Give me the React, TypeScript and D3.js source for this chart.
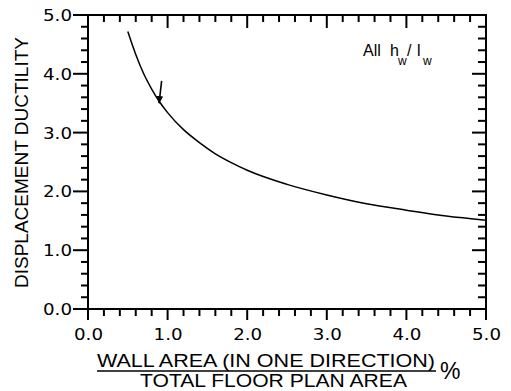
import React, { useEffect, useRef } from "react";
import * as d3 from "d3";

// values
const wallRatio = [0.5, 0.6, 0.7, 0.8, 0.9, 1.0, 1.2, 1.4, 1.6, 1.8, 2.0, 2.5, 3.0, 3.5, 4.0, 4.5, 5.0];
const ductility = [4.72, 4.33, 4.0, 3.74, 3.52, 3.34, 3.05, 2.83, 2.64, 2.49, 2.36, 2.12, 1.94, 1.79, 1.68, 1.58, 1.51];
const xTicks = [0, 1, 2, 3, 4, 5];
const yTicks = [0, 1, 2, 3, 4, 5];
const minorTicks = [0.2, 0.4, 0.6, 0.8, 1.2, 1.4, 1.6, 1.8, 2.2, 2.4, 2.6, 2.8, 3.2, 3.4, 3.6, 3.8, 4.2, 4.4, 4.6, 4.8];
const arrowFrom = [0.925, 3.88];
const arrowTo = [0.893, 3.5];

const W = 511;
const H = 391;
const FONT = "'Liberation Sans', Arial, sans-serif";

const App = () => {
  const svgRef = useRef<SVGSVGElement>(null);

  useEffect(() => {
    const svg = d3.select(svgRef.current);
    svg.selectAll("*").remove();

    const x = d3.scaleLinear().domain([0, 5]).range([88, 486]);
    const y = d3.scaleLinear().domain([0, 5]).range([309, 15]);

    // ticks: bottom/top ones point down, left/right ones point left
    const ticks = svg.append("g").attr("stroke", "#000").attr("stroke-width", 2);
    const tick = (ax: number, ay: number, bx: number, by: number) =>
      ticks.append("line").attr("x1", ax).attr("y1", ay).attr("x2", bx).attr("y2", by).attr("stroke", "#000");
    minorTicks.forEach((v) => {
      tick(x(v), y(0), x(v), y(0) + 7);
      tick(x(v), y(5), x(v), y(5) + 7);
      tick(x(0), y(v), x(0) - 7, y(v));
      tick(x(5), y(v), x(5) - 8, y(v));
    });
    xTicks.forEach((v) => {
      tick(x(v), y(0), x(v), y(0) + 11);
      tick(x(v), y(5), x(v), y(5) + 13);
    });
    yTicks.forEach((v) => {
      tick(x(0), y(v), x(0) - 15, y(v));
      tick(x(5), y(v), x(5) - 14, y(v));
    });

    // frame
    svg.append("rect")
      .attr("x", x(0))
      .attr("y", y(5))
      .attr("width", x(5) - x(0))
      .attr("height", y(0) - y(5))
      .attr("fill", "none")
      .attr("stroke", "#000")
      .attr("stroke-width", 2);

    const t = svg.append("g").attr("font-family", FONT).attr("fill", "#000");

    xTicks.forEach((v) => {
      t.append("text")
        .attr("x", x(v) + 0.5)
        .attr("y", y(0) + 31)
        .attr("text-anchor", "middle")
        .attr("font-family", "'DejaVu Sans', sans-serif")
        .attr("font-size", 16)
        .attr("textLength", 29)
        .attr("lengthAdjust", "spacingAndGlyphs")
        .text(v.toFixed(1));
    });
    yTicks.forEach((v) => {
      t.append("text")
        .attr("x", x(0) - 16)
        .attr("y", y(v) + 6)
        .attr("text-anchor", "end")
        .attr("font-family", "'DejaVu Sans', sans-serif")
        .attr("font-size", 16)
        .attr("textLength", 29)
        .attr("lengthAdjust", "spacingAndGlyphs")
        .text(v.toFixed(1));
    });

    // curve
    const line = d3
      .line<number>()
      .x((d) => x(d))
      .y((d, i) => y(ductility[i]))
      .curve(d3.curveMonotoneX);
    svg.append("path")
      .attr("d", line(wallRatio))
      .attr("fill", "none")
      .attr("stroke", "#000")
      .attr("stroke-width", 1.5);

    // arrow
    svg.append("defs")
      .append("marker")
      .attr("id", "ah")
      .attr("viewBox", "0 0 10 10")
      .attr("refX", 9)
      .attr("refY", 5)
      .attr("markerWidth", 5)
      .attr("markerHeight", 5)
      .attr("orient", "auto")
      .append("path")
      .attr("d", "M0,1 L10,5 L0,9 Z")
      .attr("fill", "#000");
    svg.append("line")
      .attr("x1", x(arrowFrom[0]))
      .attr("y1", y(arrowFrom[1]))
      .attr("x2", x(arrowTo[0]))
      .attr("y2", y(arrowTo[1]))
      .attr("stroke", "#000")
      .attr("stroke-width", 1.6)
      .attr("marker-end", "url(#ah)");

    // annotation "All h_w/l_w"
    const ann = t.append("g").attr("font-size", 16);
    ann.append("text").attr("x", 363).attr("y", 56).text("All");
    ann.append("text").attr("x", 390).attr("y", 56).text("h");
    ann.append("text").attr("x", 398).attr("y", 65).attr("font-size", 12).text("w");
    ann.append("text").attr("x", 407).attr("y", 56).text("/");
    ann.append("text").attr("x", 417).attr("y", 56).text("l");
    ann.append("text").attr("x", 423).attr("y", 65).attr("font-size", 12).text("w");

    // axis titles
    t.append("text")
      .attr("transform", `translate(28,${(288 + 37) / 2}) rotate(-90)`)
      .attr("text-anchor", "middle")
      .attr("font-size", 19)
      .attr("textLength", 251)
      .attr("lengthAdjust", "spacingAndGlyphs")
      .text("DISPLACEMENT DUCTILITY");

    t.append("text")
      .attr("x", 97)
      .attr("y", 367)
      .attr("font-size", 19)
      .attr("textLength", 338)
      .attr("lengthAdjust", "spacingAndGlyphs")
      .text("WALL AREA (IN ONE DIRECTION)");
    svg.append("line")
      .attr("x1", 97)
      .attr("x2", 436)
      .attr("y1", 371)
      .attr("y2", 371)
      .attr("stroke", "#000")
      .attr("stroke-width", 1.5);
    t.append("text")
      .attr("x", 140)
      .attr("y", 387)
      .attr("font-size", 19)
      .attr("textLength", 267)
      .attr("lengthAdjust", "spacingAndGlyphs")
      .text("TOTAL FLOOR PLAN AREA");
    t.append("text")
      .attr("x", 440)
      .attr("y", 379)
      .attr("font-size", 23)
      .text("%");
  }, []);

  return (
    <svg
      ref={svgRef}
      width={W}
      height={H}
      style={{ position: "absolute", top: 0, left: 0, background: "#fff" }}
    ></svg>
  );
};

export default App;
